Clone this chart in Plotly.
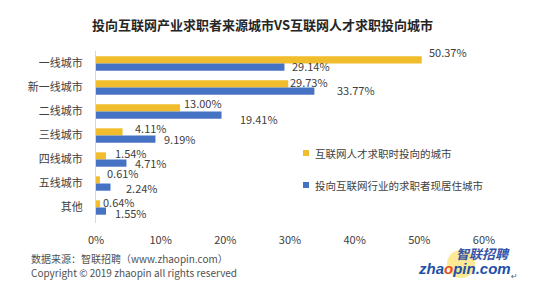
import plotly.graph_objects as go

categories = ["一线城市", "新一线城市", "二线城市", "三线城市", "四线城市", "五线城市", "其他"]
target_pct = [50.37, 29.73, 13.00, 4.11, 1.54, 0.61, 0.64]
residence_pct = [29.14, 33.77, 19.41, 9.19, 4.71, 2.24, 1.55]
series_names = ["互联网人才求职时投向的城市", "投向互联网行业的求职者现居住城市"]
x_ticks = [0, 10, 20, 30, 40, 50, 60]
x_tick_text = ["0%", "10%", "20%", "30%", "40%", "50%", "60%"]

title = "投向互联网产业求职者来源城市VS互联网人才求职投向城市"
source_note = "数据来源：智联招聘（www.zhaopin.com）"
copyright_note = "Copyright © 2019 zhaopin all rights reserved"

YELLOW = "#F1BD2C"
BLUE = "#4672C3"
TXT = "#404040"
CJK = "Noto Sans CJK SC"

# label offsets (pixels) relative to bar end / category centre
y_xshift = [5, 0, 2, 10, 7, 5, 1]
y_yshift = [11.5, 5.5, 8.5, 7.5, 7, 11, 5.5]
b_xshift = [6, 21, 16, 6.5, 6.5, 13.5, 7]
b_yshift = [-2.5, -2.5, -7.5, -3.5, -3, -4, -5]

W, H = 552, 281
ML, MR, MT, MB = 96, 68, 51, 58
PW, PH = W - ML - MR, H - MT - MB

fig = go.Figure()
fig.add_trace(go.Bar(y=categories, x=target_pct, orientation="h", name=series_names[0],
                     marker=dict(color=YELLOW, line=dict(width=0)), showlegend=False))
fig.add_trace(go.Bar(y=categories, x=residence_pct, orientation="h", name=series_names[1],
                     marker=dict(color=BLUE, line=dict(width=0)), showlegend=False))

ann = []
for i, c in enumerate(categories):
    ann.append(dict(x=target_pct[i], y=c, xref="x", yref="y", text=f"{target_pct[i]:.2f}%",
                    showarrow=False, xanchor="left", yanchor="middle",
                    xshift=y_xshift[i], yshift=y_yshift[i],
                    font=dict(family=CJK, size=11, color=TXT)))
    ann.append(dict(x=residence_pct[i], y=c, xref="x", yref="y", text=f"{residence_pct[i]:.2f}%",
                    showarrow=False, xanchor="left", yanchor="middle",
                    xshift=b_xshift[i], yshift=b_yshift[i],
                    font=dict(family=CJK, size=11, color=TXT)))

def px(x):
    return (x - ML) / PW
def py(y):
    return (H - MB - y) / PH

# title
ann.append(dict(x=px(262), y=py(25), xref="paper", yref="paper", text=f"<b>{title}</b>",
                showarrow=False, xanchor="center", yanchor="middle",
                font=dict(family=CJK, size=13, color="#262626")))
# manual legend
legend_y = [153, 185]
legend_col = [YELLOW, BLUE]
shapes = []
for j in range(2):
    shapes.append(dict(type="rect", xref="paper", yref="paper",
                       x0=px(303), x1=px(309), y0=py(legend_y[j] + 3), y1=py(legend_y[j] - 3),
                       fillcolor=legend_col[j], line=dict(width=0)))
    ann.append(dict(x=px(313), y=py(legend_y[j]), xref="paper", yref="paper", text=series_names[j],
                    showarrow=False, xanchor="left", yanchor="middle",
                    font=dict(family=CJK, size=10.5, color=TXT)))
# footer
ann.append(dict(x=px(29), y=py(258), xref="paper", yref="paper", text=source_note,
                showarrow=False, xanchor="left", yanchor="middle",
                font=dict(family=CJK, size=10, color="#505050")))
ann.append(dict(x=px(29), y=py(272), xref="paper", yref="paper", text=copyright_note,
                showarrow=False, xanchor="left", yanchor="middle",
                font=dict(family=CJK, size=10, color="#505050")))
# logo
shapes.append(dict(type="circle", xref="paper", yref="paper",
                   x0=px(447), x1=px(475), y0=py(278), y1=py(250),
                   fillcolor="rgba(250,215,60,0.55)", line=dict(width=0), layer="below"))
ann.append(dict(x=px(483), y=py(253), xref="paper", yref="paper", text="<b><i>智联招聘</i></b>",
                showarrow=False, xanchor="center", yanchor="middle",
                font=dict(family=CJK, size=13, color="#3553A8")))
ann.append(dict(x=px(464), y=py(268), xref="paper", yref="paper",
                text="<b><i>zha<span style='color:#E2502A'>o</span>pin.com</i></b>",
                showarrow=False, xanchor="center", yanchor="middle",
                font=dict(family="Liberation Sans", size=15, color="#1F4FA8")))
ann.append(dict(x=px(514), y=py(276), xref="paper", yref="paper", text="↵",
                showarrow=False, xanchor="center", yanchor="middle",
                font=dict(family="DejaVu Sans", size=8, color="#606060")))

fig.update_layout(
    width=W, height=H,
    margin=dict(l=ML, r=MR, t=MT, b=MB),
    paper_bgcolor="white", plot_bgcolor="white",
    barmode="group", bargap=0.40, bargroupgap=0,
    annotations=ann, shapes=shapes,
    xaxis=dict(range=[0, 60], tickvals=x_ticks, ticktext=x_tick_text, showgrid=False,
               zeroline=False, showline=False, ticks="outside", ticklen=7,
               tickcolor="rgba(0,0,0,0)", tickfont=dict(family=CJK, size=11, color=TXT),
               fixedrange=True),
    yaxis=dict(autorange="reversed", showgrid=False, zeroline=False,
               showline=True, linecolor="#D9D9D9", linewidth=1,
               ticks="outside", ticklen=10, tickcolor="rgba(0,0,0,0)",
               tickfont=dict(family=CJK, size=11, color=TXT), fixedrange=True),
    font=dict(family=CJK),
)

fig.write_html("out.html")
